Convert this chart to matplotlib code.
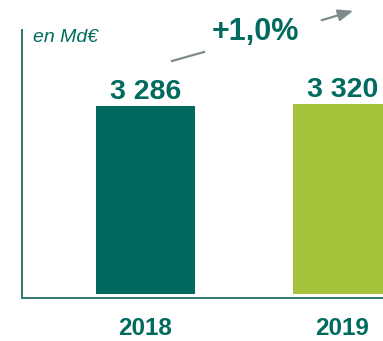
import matplotlib
matplotlib.use('Agg')
import matplotlib.pyplot as plt
from matplotlib.lines import Line2D

# encours en milliards d'euros
years = ['2018', '2019']
values = [3286, 3320]
value_labels = ['3 286', '3 320']
growth_label = '+1,0%'
unit_label = 'en Md\u20ac'

bar_colors = ['#006A5E', '#A5C33A']
text_color = '#006B5E'
axis_color = '#2A7A6C'
arrow_color = '#7F8A8C'
plt.rcParams['font.family'] = ['Liberation Sans', 'DejaVu Sans']

W, H = 383, 341
fig = plt.figure(figsize=(W / 100, H / 100), dpi=100)


def fx(px):
    return px / W


def fy(py):
    return 1 - py / H


ax = fig.add_axes([fx(22), fy(298), 1 - fx(22), fy(30) - fy(298)])
x = range(len(values))
ax.bar(x, values, width=0.5025, color=bar_colors)
ax.set_xlim(-0.627, 1.2056)
ax.set_ylim(-70, 4615)

for xi, v, lab in zip(x, values, value_labels):
    ax.text(xi, v + 130, lab, ha='center', va='baseline', fontsize=20.5,
            fontweight='bold', color=text_color)

ax.set_xticks(list(x))
ax.set_xticklabels(years, fontsize=17.5, fontweight='bold', color=text_color)
ax.tick_params(axis='x', length=0, pad=14)
ax.set_yticks([])
for side in ('top', 'right'):
    ax.spines[side].set_visible(False)
for side in ('left', 'bottom'):
    ax.spines[side].set_color(axis_color)
    ax.spines[side].set_linewidth(1.4)

fig.text(fx(33), fy(42), unit_label, ha='left', va='baseline', fontsize=14,
         style='italic', color=text_color)

# trend arrow, broken around the growth label
fig.add_artist(Line2D([fx(172), fx(204)], [fy(61), fy(52)], color=arrow_color,
                      lw=1.6, transform=fig.transFigure))
ax.annotate('', xy=(fx(356), fy(10)), xytext=(fx(319), fy(21)),
            xycoords='figure fraction', textcoords='figure fraction',
            arrowprops=dict(arrowstyle='-|>,head_length=0.9,head_width=0.35',
                            color=arrow_color, lw=1.6))
fig.text(fx(255), fy(40), growth_label, ha='center', va='baseline', fontsize=22,
         fontweight='bold', color=text_color)

fig.savefig('out.png', dpi=100)
